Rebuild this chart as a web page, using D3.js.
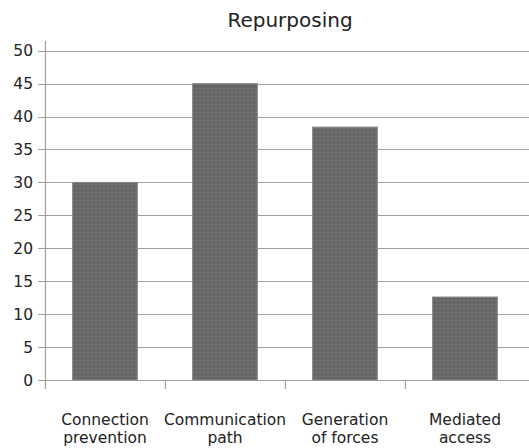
<!DOCTYPE html>
<html><head><meta charset="utf-8">
<script src="https://cdn.jsdelivr.net/npm/d3@7"></script>
<style>body{margin:0;background:#fff}</style>
</head><body>
<svg id="c" width="529" height="448"></svg>
<script>
const categories = [["Connection","prevention"],["Communication","path"],["Generation","of forces"],["Mediated","access"]];
const values = [30, 45, 38.4, 12.6];
const yTicks = [0,5,10,15,20,25,30,35,40,45,50];
const title = "Repurposing";

const svg = d3.select("#c");
const font = "DejaVu Sans, Verdana, sans-serif";
const x0 = 45, x1 = 525, yTop = 50.7, yBot = 380;
const x = d3.scaleBand().domain(d3.range(values.length)).range([x0, x1]).paddingInner(0.46).paddingOuter(0.23);
const y = d3.scaleLinear().domain([0, 50]).range([yBot, yTop]);

// pattern texture
const defs = svg.append("defs");
const pat = defs.append("pattern").attr("id","tex").attr("width",4).attr("height",4).attr("patternUnits","userSpaceOnUse");
pat.append("rect").attr("width",4).attr("height",4).attr("fill","#686868");
pat.append("rect").attr("x",0).attr("y",0).attr("width",1).attr("height",1).attr("fill","#7a7a7a");
pat.append("rect").attr("x",2).attr("y",2).attr("width",1).attr("height",1).attr("fill","#5c5c5c");
pat.append("rect").attr("x",3).attr("y",0).attr("width",1).attr("height",1).attr("fill","#737373");

// gridlines
svg.append("g").selectAll("line").data(yTicks).join("line")
  .attr("x1", 38).attr("x2", 529)
  .attr("y1", d => Math.round(y(d)) + 0.5).attr("y2", d => Math.round(y(d)) + 0.5)
  .attr("stroke", "#a0a0a0").attr("stroke-width", 1.2);

// y labels
svg.append("g").selectAll("text").data(yTicks).join("text")
  .attr("x", 33).attr("y", d => y(d) + 5.5)
  .attr("text-anchor","end").attr("font-family",font).attr("font-size",15.5).attr("fill","#222")
  .text(d => d);

// y axis line
svg.append("line").attr("x1",45.5).attr("x2",45.5).attr("y1",yTop-10).attr("y2",389)
  .attr("stroke","#a0a0a0").attr("stroke-width",1.2);

// category ticks (between categories only)
const tickX = d3.range(1, values.length).map(i => x0 + i * x.step());
svg.append("g").selectAll("line").data(tickX).join("line")
  .attr("x1", d => Math.round(d)+0.5).attr("x2", d => Math.round(d)+0.5)
  .attr("y1", yBot).attr("y2", 389).attr("stroke","#a0a0a0").attr("stroke-width",1.2);

// bars
svg.append("g").selectAll("rect").data(values).join("rect")
  .attr("x", (d,i) => x(i)).attr("width", x.bandwidth())
  .attr("y", d => y(d)).attr("height", d => y(0) - y(d))
  .attr("fill","url(#tex)").attr("stroke","#8a8a8a").attr("stroke-width",1);

// category labels
const lab = svg.append("g").selectAll("text").data(categories).join("text")
  .attr("text-anchor","middle").attr("font-family",font).attr("font-size",15.5).attr("fill","#222");
lab.each(function(d,i){
  const t = d3.select(this);
  const cx = x(i) + x.bandwidth()/2;
  d.forEach((line,k) => t.append("tspan").attr("x",cx).attr("y",425 + k*18).text(line));
});

// title
svg.append("text").attr("x",290).attr("y",27).attr("text-anchor","middle")
  .attr("font-family",font).attr("font-size",20).attr("fill","#222").text(title);
</script>
</body></html>
